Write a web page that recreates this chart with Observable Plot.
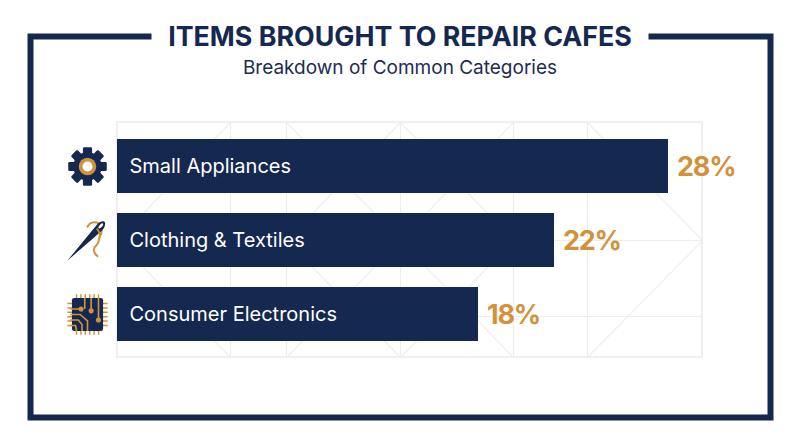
<!DOCTYPE html>
<html>
<head>
<meta charset="utf-8">
<script src="https://cdn.jsdelivr.net/npm/d3@7"></script>
<script src="https://cdn.jsdelivr.net/npm/@observablehq/plot@0.6"></script>
<style>
  html, body { margin: 0; padding: 0; background: #fff; }
  #stage { position: relative; width: 800px; height: 447px; overflow: hidden; font-family: Inter, sans-serif; }
  #stage svg { position: absolute; left: 0; top: 0; }
  #title, #subtitle { position: absolute; left: 0; width: 800px; text-align: center; margin: 0; white-space: nowrap; color: #152850; }
  #title { top: 19px; font-size: 26.8px; line-height: 34px; font-weight: 700; }
  #subtitle { top: 56px; font-size: 19px; line-height: 24px; font-weight: 400; color: #1d2d50; }
</style>
</head>
<body>
<div id="stage">
  <h1 id="title">ITEMS BROUGHT TO REPAIR CAFES</h1>
  <h2 id="subtitle">Breakdown of Common Categories</h2>
</div>
<script>
const categories = ["Small Appliances", "Clothing & Textiles", "Consumer Electronics"];
const shares = [28, 22, 18];
const valueLabels = ["28%", "22%", "18%"];

const navy = "#152850";
const gold = "#D2923C";
const svgUri = (s) => "data:image/svg+xml," + encodeURIComponent(`<svg xmlns="http://www.w3.org/2000/svg" viewBox="0 0 48 48">${s}</svg>`);

const gearTeeth = d3.range(8).map(i => `<rect x="19" y="3" width="10" height="10" rx="1.5" fill="${navy}" transform="rotate(${i * 45} 24 24)"/>`).join("");
const chipLegs = d3.range(6).map(i => {
  const p = 12 + i * 4.8;
  return `<path d="M${p} 2V8M${p} 40V46M2 ${p}H8M40 ${p}H46" stroke="${gold}" stroke-width="1.6"/>`;
}).join("");
const icons = [
  svgUri(`${gearTeeth}<circle cx="24" cy="24" r="15.5" fill="${navy}"/><circle cx="24" cy="24" r="9.5" fill="${gold}"/><circle cx="24" cy="24" r="5.500" fill="#fff"/>`),
  svgUri(`<path d="M24 9C27 3 36 2 39 9C42 15 36 20 36 25C36 30 30 30 31 35C31.500 38 33 40 35 41" fill="none" stroke="${gold}" stroke-width="2.200" stroke-linecap="round"/><path d="M2 46L34 7C37 3 42 2 43 4C44 7 42 11 39 14Z" fill="${navy}"/><ellipse cx="38.500" cy="8" rx="1.500" ry="3.500" transform="rotate(40 38.500 8)" fill="#fff"/><path d="M34 11C37 14 38 18 37 21" fill="none" stroke="${gold}" stroke-width="2"/>`),
  svgUri(`${chipLegs}<rect x="7" y="6" width="34" height="36" rx="2.500" fill="${navy}"/><g fill="none" stroke="${gold}" stroke-width="1.800"><path d="M21 6V18M28 6V20M36 6V30M5 18H17M5 24H16L24 31V42M5 30H14L18 35V42M5 36H11L12 42"/></g><g fill="${gold}"><circle cx="17" cy="18" r="2.800"/><circle cx="28" cy="20" r="2.800"/><circle cx="36" cy="30" r="2.800"/></g>`)
];

const rows = categories.map((category, i) => ({ category, share: shares[i], label: valueLabels[i], icon: icons[i] }));

// Decorative lattice behind the bars and the frame, in page units.
const latticeH = [240, 316];
const latticeV = [230, 286, 400, 513, 587];
const diagonals = [
  [117,240,230,122],[117,240,230,357],[286,122,400,240],[286,357,400,240],
  [400,122,286,240],[400,122,513,240],[513,122,400,240],[400,240,513,357],
  [400,357,513,240],[400,357,286,240],[587,122,702,240],[587,357,702,240]
];
const frameSegments = [[[151,36],[30,36],[30,417],[770,417],[770,36],[648,36]]];

const decor = Plot.plot({
  width: 800, height: 447, margin: 0,
  x: { type: "linear", domain: [0, 800], range: [0, 800], axis: null },
  y: { type: "linear", domain: [0, 447], range: [0, 447], axis: null },
  style: { background: "#fff" },
  marks: [
    Plot.link(diagonals, { x1: d => d[0], y1: d => d[1], x2: d => d[2], y2: d => d[3], stroke: "#efefef", strokeWidth: 1.2 }),
    Plot.ruleY(latticeH, { x1: 117, x2: 702, stroke: "#ededed", strokeWidth: 1.2 }),
    Plot.ruleX(latticeV, { y1: 122, y2: 357, stroke: "#ededed", strokeWidth: 1.2 }),
    Plot.rect([[117, 122, 702, 357]], { x1: d => d[0], y1: d => d[1], x2: d => d[2], y2: d => d[3], fill: "none", stroke: "#ededed", strokeWidth: 1.6 }),
    Plot.line(frameSegments[0], { x: d => d[0], y: d => d[1], stroke: navy, strokeWidth: 6, strokeLinejoin: "miter", strokeMiterlimit: 10, strokeLinecap: "butt", curve: "linear" })
  ]
});

// The drawn bars start a little below zero in value terms, as the reference's lengths imply.
const xStart = -1;
const chart = Plot.plot({
  width: 800, height: 447, margin: 0,
  style: { background: "transparent", fontFamily: "Inter, sans-serif" },
  x: { type: "linear", domain: [xStart, 28], range: [117, 668], axis: null },
  y: { domain: categories, range: [139, 341.5], paddingInner: 0.27, paddingOuter: 0, axis: null },
  marks: [
    Plot.barX(rows, { x1: () => xStart, x2: "share", y: "category", fill: navy }),
    Plot.image(rows, { x: () => xStart, y: "category", dx: -30, src: "icon", width: 44, height: 44 }),
    Plot.text(rows, { x: () => xStart, y: "category", dx: 12, dy: 0.5, text: "category", textAnchor: "start", fill: "#fff", fontSize: 20, fontWeight: 400 }),
    Plot.text(rows, { x: "share", y: "category", dx: 8.5, dy: 0.5, text: "label", textAnchor: "start", fill: gold, fontSize: 27, fontWeight: 700 })
  ]
});
chart.querySelectorAll("text").forEach(t => {
  if (valueLabels.includes(t.textContent)) t.style.letterSpacing = "-1.2px";
});

const stage = document.getElementById("stage");
stage.insertBefore(chart, stage.firstChild);
stage.insertBefore(decor, stage.firstChild);
</script>
</body>
</html>
